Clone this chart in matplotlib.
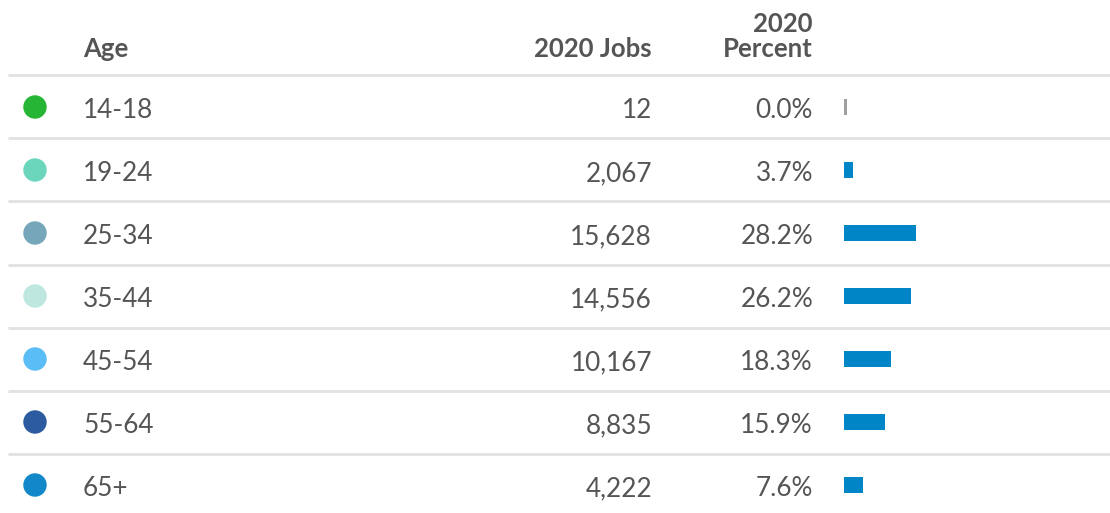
import matplotlib.pyplot as plt

ages = ['14-18', '19-24', '25-34', '35-44', '45-54', '55-64', '65+']
jobs = [12, 2067, 15628, 14556, 10167, 8835, 4222]
pct = [0.0, 3.7, 28.2, 26.2, 18.3, 15.9, 7.6]
dot_colors = ['#27b536', '#6cd6bd', '#76a6b9', '#bee7e0', '#5abdf6', '#2c5b9f', '#1288c8']

plt.rcParams['font.family'] = ['Lato', 'DejaVu Sans']
txt = '#555555'

W, H = 1110, 513
fig = plt.figure(figsize=(W / 100, H / 100), dpi=100)

# row i is centred at pixel 107 + 63*i
y_top = -107 / 63
y_bot = (H - 107) / 63

ax = fig.add_axes([0, 0, 1, 1])
ax.set_xlim(0, W)
ax.set_ylim(y_bot, y_top)
ax.axis('off')

rows = range(len(ages))
ax.hlines([i - 0.5 for i in range(len(ages))], 8, W, color='#e1e1e1', lw=2)

ax.scatter([35] * len(ages), list(rows), s=285, c=dot_colors, edgecolors='none')

# headers
hd = dict(fontsize=18.5, fontweight='bold', color=txt, va='baseline')
ax.text(83, -0.794, 'Age', ha='left', **hd)
ax.text(652, -0.794, '2020 Jobs', ha='right', **hd)
ax.text(813, -0.794, 'Percent', ha='right', **hd)
ax.text(813, -1.19, '2020', ha='right', **hd)

bd = dict(fontsize=18.8, color=txt, va='baseline')
for i in rows:
    ax.text(83, i + 0.175, ages[i], ha='left', **bd)
    ax.text(652, i + 0.175, f'{jobs[i]:,}', ha='right', **bd)
    ax.text(813, i + 0.175, f'{pct[i]:.1f}%', ha='right', **bd)

# bars in percent units, about 2.55 px per percent
x0 = 844
bax = fig.add_axes([x0 / W, 0, 1 - x0 / W, 1])
bax.set_xlim(0, (W - x0) / 2.55)
bax.set_ylim(y_bot, y_top)
bax.axis('off')
widths = [p if p > 0 else 1.2 for p in pct]
colors = ['#0086c6' if p > 0 else '#a0a0a0' for p in pct]
bax.barh(list(rows), widths, height=0.26, color=colors, align='center')

fig.savefig('out.png', dpi=100)
